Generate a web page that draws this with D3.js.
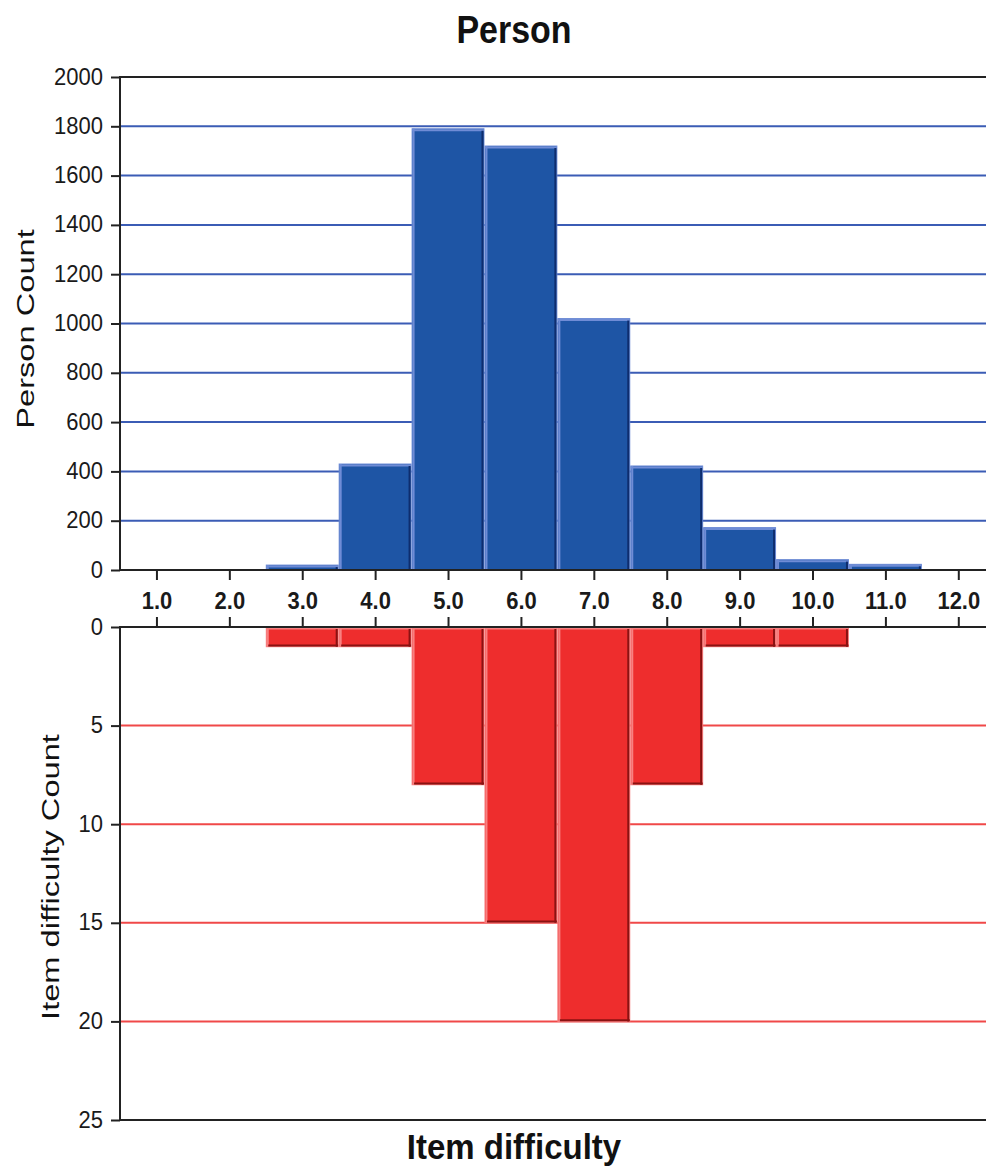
<!DOCTYPE html>
<html>
<head>
<meta charset="utf-8">
<script src="https://cdn.jsdelivr.net/npm/d3@7"></script>
<style>
  html, body { margin: 0; padding: 0; background: #fff; }
  svg { display: block; font-family: "Liberation Sans", Arial, sans-serif; }
</style>
</head>
<body>
<svg id="chart" width="986" height="1168"></svg>
<script>
// ---- data ----
const xTicks = [1, 2, 3, 4, 5, 6, 7, 8, 9, 10, 11, 12];
const personBins = [3, 4, 5, 6, 7, 8, 9, 10, 11];
const personCounts = [20, 430, 1790, 1720, 1020, 422, 172, 42, 23];
const itemBins = [3, 4, 5, 6, 7, 8, 9, 10];
const itemCounts = [1, 1, 8, 15, 20, 8, 1, 1];
const personTicks = [0, 200, 400, 600, 800, 1000, 1200, 1400, 1600, 1800, 2000];
const itemTicks = [0, 5, 10, 15, 20, 25];

const svg = d3.select("#chart");
const left = 120, right = 986;
const x = d3.scaleLinear().domain([0.5, 12.38]).range([left, right]);
const yTop = d3.scaleLinear().domain([0, 2000]).range([570, 77]);
const yBot = d3.scaleLinear().domain([0, 25]).range([627, 1120]);

// gridlines
svg.append("g").selectAll("line").data(personTicks.filter(d => d > 0 && d < 2000)).join("line")
  .attr("x1", left).attr("x2", right)
  .attr("y1", d => yTop(d)).attr("y2", d => yTop(d))
  .attr("stroke", "#3b5cb5").attr("stroke-width", 2);
svg.append("g").selectAll("line").data(itemTicks.filter(d => d > 0 && d < 25)).join("line")
  .attr("x1", left).attr("x2", right)
  .attr("y1", d => yBot(d)).attr("y2", d => yBot(d))
  .attr("stroke", "#f04848").attr("stroke-width", 2);

// bevelled bar helper
function bevelBar(g, x0, x1, yA, yB, fill, light, dark, down) {
  const top = Math.min(yA, yB), bot = Math.max(yA, yB);
  g.append("rect").attr("x", x0).attr("y", top).attr("width", x1 - x0).attr("height", bot - top)
    .attr("fill", fill).attr("stroke", light).attr("stroke-width", 1);
  g.append("line").attr("x1", x0 + 1.5).attr("x2", x0 + 1.5).attr("y1", top).attr("y2", bot)
    .attr("stroke", light).attr("stroke-width", 2);
  g.append("line").attr("x1", x0).attr("x2", x1).attr("y1", top + 1.5).attr("y2", top + 1.5)
    .attr("stroke", light).attr("stroke-width", 2);
  g.append("line").attr("x1", x1 - 1.5).attr("x2", x1 - 1.5).attr("y1", top + 2).attr("y2", bot)
    .attr("stroke", dark).attr("stroke-width", 2);
  if (down) {
    g.append("line").attr("x1", x0 + 2).attr("x2", x1).attr("y1", bot - 1.2).attr("y2", bot - 1.2)
      .attr("stroke", dark).attr("stroke-width", 2);
  }
}

const gBlue = svg.append("g");
personBins.forEach((b, i) => {
  bevelBar(gBlue, x(b - 0.5) + 0.5, x(b + 0.5) - 0.5, yTop(0), yTop(personCounts[i]),
    "#1e55a5", "#6f8cd6", "#0e2d6e", false);
});
const gRed = svg.append("g");
itemBins.forEach((b, i) => {
  bevelBar(gRed, x(b - 0.5) + 0.5, x(b + 0.5) - 0.5, yBot(0), yBot(itemCounts[i]),
    "#ee2d2d", "#f88080", "#8a1212", true);
});

// axes
const axisColor = "#222";
function styleAxis(g) {
  g.select(".domain").remove();
  g.selectAll(".tick line").attr("stroke", axisColor).attr("stroke-width", 2);
  g.selectAll(".tick text").attr("fill", "#1a1a1a");
}
function stretchYLabels(g) {
  g.selectAll(".tick text").attr("font-size", 22).attr("dy", null)
    .attr("transform", "translate(0,7) scale(1,1.12)");
}

const gYTop = svg.append("g").attr("transform", `translate(${left},0)`)
  .call(d3.axisLeft(yTop).tickValues(personTicks).tickSize(9).tickPadding(8).tickFormat(d3.format("d")));
styleAxis(gYTop);
stretchYLabels(gYTop);

const gYBot = svg.append("g").attr("transform", `translate(${left},0)`)
  .call(d3.axisLeft(yBot).tickValues(itemTicks).tickSize(9).tickPadding(8));
styleAxis(gYBot);
stretchYLabels(gYBot);

// vertical axis lines
svg.append("line").attr("x1", left).attr("x2", left).attr("y1", yTop(2000)).attr("y2", yTop(0))
  .attr("stroke", axisColor).attr("stroke-width", 2);
svg.append("line").attr("x1", left).attr("x2", left).attr("y1", yBot(0)).attr("y2", yBot(25))
  .attr("stroke", axisColor).attr("stroke-width", 2);
// horizontal frame lines
[yTop(2000), yTop(0), yBot(0), yBot(25)].forEach(yy => {
  svg.append("line").attr("x1", left - 1).attr("x2", right).attr("y1", yy).attr("y2", yy)
    .attr("stroke", axisColor).attr("stroke-width", 2);
});

// x axis (below top panel)
const gX = svg.append("g").attr("transform", `translate(0,${yTop(0)})`)
  .call(d3.axisBottom(x).tickValues(xTicks).tickSize(10).tickPadding(12).tickFormat(d => d.toFixed(1)));
styleAxis(gX);
gX.selectAll(".tick text").attr("font-size", 22).attr("font-weight", "bold")
  .attr("y", null).attr("dy", null).attr("transform", "translate(0,39) scale(1,1.12)");
const gX2 = svg.append("g").attr("transform", `translate(0,${yBot(0)})`)
  .call(d3.axisTop(x).tickValues(xTicks).tickSize(10).tickFormat(""));
styleAxis(gX2);

// titles
function label(txt, tx, ty, size, weight, sy, rot) {
  svg.append("text").attr("transform", `translate(${tx},${ty}) scale(1,${sy}) rotate(${rot})`)
    .attr("text-anchor", "middle").attr("font-size", size).attr("font-weight", weight)
    .attr("fill", "#111").text(txt);
}
label("Person", 514, 43, 34, "bold", 1.12, 0);
label("Item difficulty", 514, 1159, 33, "bold", 1.08, 0);
label("Person Count", 34, 329, 24, "normal", 1.36, -90);
label("Item difficulty Count", 59, 877, 24, "normal", 1.36, -90);
</script>
</body>
</html>
